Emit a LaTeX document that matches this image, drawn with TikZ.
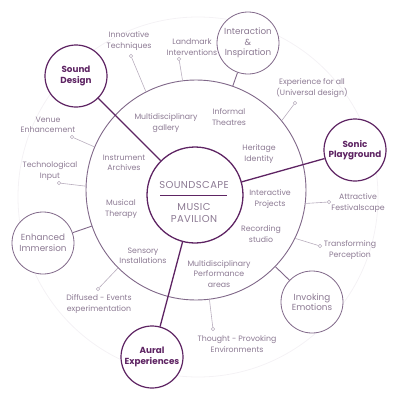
\documentclass[tikz,border=0pt]{standalone}
\usepackage{fontspec}
\setmainfont{Poppins}
\definecolor{plum}{HTML}{5E2463}
\definecolor{mauve}{HTML}{8C7A93}
\definecolor{ringline}{HTML}{806889}
\definecolor{pinline}{HTML}{B9AEBE}
\definecolor{faint}{HTML}{F4F2F5}

\begin{document}
\begin{tikzpicture}[x=1pt,y=-1pt,
    lbl/.style={text=mauve, font=\fontsize{7.8}{10.5}\selectfont, align=center, inner sep=0pt},
    major/.style={circle, draw=plum, line width=1.2pt, minimum size=62pt, inner sep=0pt,
        fill=white, text=plum, font=\fontsize{8.8}{10.5}\selectfont\bfseries, align=center},
    minor/.style={circle, draw=ringline, line width=0.8pt, minimum size=62pt, inner sep=0pt,
        fill=white, text=mauve, font=\fontsize{8.8}{10.5}\selectfont, align=center},
    pin/.style={draw=pinline, line width=0.6pt},
    pinhead/.style={circle, draw=pinline, fill=white, line width=0.6pt, inner sep=0pt, minimum size=3.5pt}]

    \useasboundingbox (0,0) rectangle (400,400);

    % faint outer circle
    \draw[faint, line width=0.8pt] (198,197) circle[radius=180];

    % ring and hub
    \node[circle, draw=ringline, line width=0.9pt, minimum size=220pt, inner sep=0pt] (ring) at (196,190) {};
    \node[circle, draw=plum, line width=1.3pt, minimum size=96pt, inner sep=0pt] (hub) at (195,195) {};

    \node[text=mauve, font=\fontsize{10}{12}\selectfont\addfontfeatures{LetterSpace=4}] (soundscape) at (194,185) {SOUNDSCAPE};
    \draw[plum, line width=1pt] (160,195) -- (227,195);
    \node[text=mauve, font=\fontsize{10}{11.5}\selectfont\addfontfeatures{LetterSpace=4}, align=center] (pavilion) at (194,213) {MUSIC\\PAVILION};

    % satellites
    \node[major] (sound) at (76,76) {Sound\\Design};
    \node[minor] (inter) at (248,43) {Interaction\\\&\\Inspiration};
    \node[major] (sonic) at (355,150) {Sonic\\Playground};
    \node[minor] (immersion) at (43,243) {Enhanced\\Immersion};
    \node[major] (aural) at (152,357) {Aural\\Experiences};
    \node[minor] (emotions) at (312,302) {Invoking\\Emotions};

    % spokes
    \draw[plum, line width=1.3pt] (sound) -- (hub);
    \draw[plum, line width=1.3pt] (sonic) -- (hub);
    \draw[plum, line width=1.3pt] (aural) -- (hub);
    \draw[ringline, line width=0.9pt] (inter) -- (ring);
    \draw[ringline, line width=0.9pt] (immersion) -- (ring);
    \draw[ringline, line width=0.9pt] (emotions) -- (ring);

    % pins
    \node[pinhead] (p1) at (131,56) {};
    \draw[pin] (ring.117) -- (p1);
    \node[pinhead] (p2) at (179,59) {};
    \draw[pin] (ring.97) -- (p2);
    \node[pinhead] (p3) at (295,103) {};
    \draw[pin] (ring.39) -- (p3);
    \node[pinhead] (p4) at (329,202) {};
    \draw[pin] (ring.-7) -- (p4);
    \node[pinhead] (p5) at (320,246) {};
    \draw[pin] (ring.-26) -- (p5);
    \node[pinhead] (p6) at (213,329) {};
    \draw[pin] (ring.-83) -- (p6);
    \node[pinhead] (p7) at (98,289) {};
    \draw[pin] (ring.-135) -- (p7);
    \node[pinhead] (p8) at (59,183) {};
    \draw[pin] (ring.178) -- (p8);
    \node[pinhead] (p9) at (72,137) {};
    \draw[pin] (ring.157) -- (p9);

    % outer labels
    \node[lbl] (innov) at (129,41) {Innovative\\Techniques};
    \node[lbl] (landmark) at (192,47) {Landmark\\Interventions};
    \node[lbl] (experience) at (312,88) {Experience for all\\(Universal design)};
    \node[lbl] (attractive) at (358,203) {Attractive\\Festivalscape};
    \node[lbl] (transform) at (350,250) {Transforming\\Perception};
    \node[lbl] (thought) at (237,344) {Thought - Provoking\\Environments};
    \node[lbl] (diffused) at (99,304) {Diffused - Events\\experimentation};
    \node[lbl] (techno) at (50,171) {Technological\\Input};
    \node[lbl] (venue) at (48,125) {Venue\\Enhancement};

    % inner labels
    \node[lbl] (gallery) at (166,123) {Multidisciplinary\\gallery};
    \node[lbl] (theatres) at (229,117) {Informal\\Theatres};
    \node[lbl] (heritage) at (259,154) {Heritage\\Identity};
    \node[lbl] (projects) at (270,199) {Interactive\\Projects};
    \node[lbl] (studio) at (261,234) {Recording\\studio};
    \node[lbl] (perform) at (219,274) {Multidisciplinary\\Performance\\areas};
    \node[lbl] (sensory) at (143,256) {Sensory\\Installations};
    \node[lbl] (therapy) at (121,209) {Musical\\Therapy};
    \node[lbl] (archives) at (124,163) {Instrument\\Archives};

\end{tikzpicture}
\end{document}
